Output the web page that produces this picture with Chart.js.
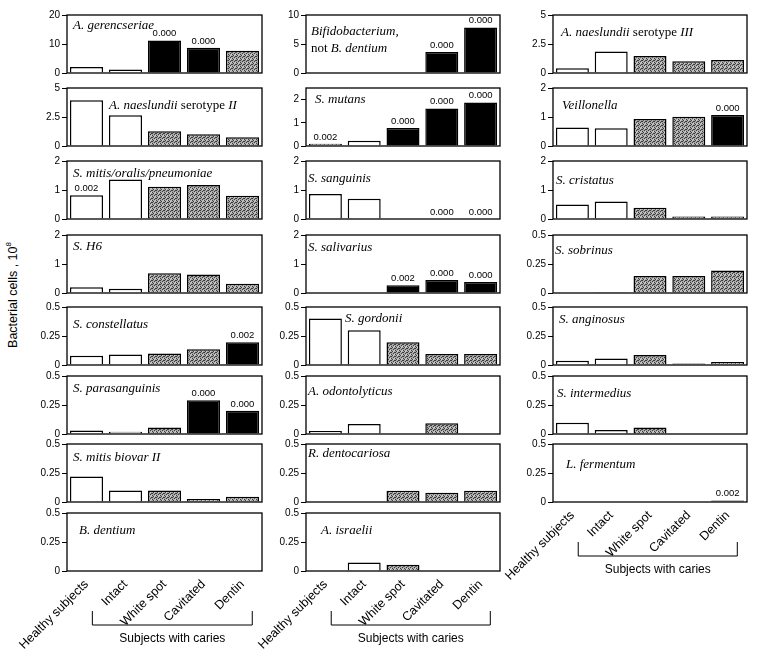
<!DOCTYPE html>
<html>
<head>
<meta charset="utf-8">
<script src="https://cdn.jsdelivr.net/npm/chart.js@4.4.1/dist/chart.umd.min.js"></script>
<style>
  body { margin: 0; width: 757px; height: 653px; background: #fff; position: relative; overflow: hidden; }
  .panel { position: absolute; }
  #ytitle {
    position: absolute; left: 12px; top: 295px;
    transform: translate(-50%, -50%) rotate(-90deg);
    font: 12.5px "Liberation Sans", Arial, sans-serif; white-space: nowrap; color: #000;
  }
  #ytitle sup { font-size: 8px; }
</style>
</head>
<body>
<div id="ytitle">Bacterial cells , 10<sup>8</sup></div>
<script>
const categories = ['Healthy subjects', 'Intact', 'White spot', 'Cavitated', 'Dentin'];

// y tick sets
const ticks0to20 = [0, 10, 20];
const ticks0to10 = [0, 5, 10];
const ticks0to5 = [0, 2.5, 5];
const ticks0to2 = [0, 1, 2];
const ticks0to05 = [0, 0.25, 0.5];

// bacterial cells, 10^8
const gerencseriae = [2.1, 1.2, 11.2, 8.7, 7.7];
const naeslundiiII = [3.95, 2.65, 1.28, 1.02, 0.76];
const mitisOralis = [0.82, 1.36, 1.11, 1.17, 0.8];
const sH6 = [0.2, 0.15, 0.68, 0.64, 0.32];
const constellatus = [0.08, 0.09, 0.1, 0.136, 0.197];
const parasanguinis = [0.03, 0.02, 0.056, 0.29, 0.2];
const mitisBiovarII = [0.22, 0.1, 0.1, 0.026, 0.046];
const bDentium = [0, 0, 0, 0, 0.005];

const bifido = [0, 0, 0, 3.6, 7.85];
const mutans = [0.1, 0.23, 0.78, 1.62, 1.87];
const sanguinis = [0.86, 0.7, 0, 0, 0];
const salivarius = [0, 0, 0.27, 0.45, 0.38];
const gordonii = [0.4, 0.3, 0.196, 0.095, 0.095];
const odontolyticus = [0.026, 0.087, 0, 0.093, 0];
const dentocariosa = [0, 0, 0.097, 0.08, 0.097];
const israelii = [0, 0.074, 0.054, 0, 0];

const naeslundiiIII = [0.4, 1.86, 1.47, 1.02, 1.13];
const veillonella = [0.64, 0.61, 0.93, 1.01, 1.07];
const cristatus = [0.5, 0.6, 0.39, 0.09, 0.09];
const sobrinus = [0, 0.006, 0.147, 0.147, 0.195];
const anginosus = [0.037, 0.057, 0.086, 0.014, 0.026];
const intermedius = [0.096, 0.035, 0.056, 0, 0];
const fermentum = [0, 0, 0, 0.005, 0.012];

// p values printed above bars
const noP = [null, null, null, null, null];
const gerencseriaeP = [null, null, '0.000', '0.000', null];
const mitisOralisP = ['0.002', null, null, null, null];
const constellatusP = [null, null, null, null, '0.002'];
const parasanguinisP = [null, null, null, '0.000', '0.000'];
const bifidoP = [null, null, null, '0.000', '0.000'];
const mutansP = ['0.002', null, '0.000', '0.000', '0.000'];
const sanguinisP = [null, null, null, '0.000', '0.000'];
const salivariusP = [null, null, '0.002', '0.000', '0.000'];
const veillonellaP = [null, null, null, null, '0.000'];
const fermentumP = [null, null, null, null, '0.002'];

// layout
const colLeft = [67, 306, 553];
const colWidth = [195, 194, 194];
const rowTop = [15, 88, 161, 235, 307, 376, 444, 513];
const areaH = 58;
const yAxisW = 34;
const sans = '"Liberation Sans", Arial, sans-serif';
const serif = '"Liberation Serif", "Times New Roman", serif';

// _text_ = italic ; fill: w white, g stippled grey, b black
const panels = [
  { col: 0, row: 0, title: '_A. gerencseriae_', values: gerencseriae, p: gerencseriaeP, fill: 'wwbbg', ticks: ticks0to20, max: 20, tx: 6, ty: 11 },
  { col: 0, row: 1, title: '_A. naeslundii_ serotype _II_', values: naeslundiiII, p: noP, fill: 'wwggg', ticks: ticks0to5, max: 5, tx: 42, ty: 18 },
  { col: 0, row: 2, title: '_S. mitis/oralis/pneumoniae_', values: mitisOralis, p: mitisOralisP, fill: 'wwggg', ticks: ticks0to2, max: 2, tx: 6, ty: 13 },
  { col: 0, row: 3, title: '_S. H6_', values: sH6, p: noP, fill: 'wwggg', ticks: ticks0to2, max: 2, tx: 6, ty: 12 },
  { col: 0, row: 4, title: '_S. constellatus_', values: constellatus, p: constellatusP, fill: 'wwggb', ticks: ticks0to05, max: 0.5, tx: 6, ty: 18 },
  { col: 0, row: 5, title: '_S. parasanguinis_', values: parasanguinis, p: parasanguinisP, fill: 'wwgbb', ticks: ticks0to05, max: 0.5, tx: 6, ty: 13 },
  { col: 0, row: 6, title: '_S. mitis biovar II_', values: mitisBiovarII, p: noP, fill: 'wwggg', ticks: ticks0to05, max: 0.5, tx: 6, ty: 14 },
  { col: 0, row: 7, title: '_B. dentium_', values: bDentium, p: noP, fill: 'wwggb', ticks: ticks0to05, max: 0.5, tx: 12, ty: 18 },

  { col: 1, row: 0, title: '_Bifidobacterium,_\nnot _B. dentium_', values: bifido, p: bifidoP, fill: 'wwgbb', ticks: ticks0to10, max: 10, tx: 5, ty: 17 },
  { col: 1, row: 1, title: '_S. mutans_', values: mutans, p: mutansP, fill: 'gwbbb', ticks: ticks0to2, max: 2.5, tx: 9, ty: 12 },
  { col: 1, row: 2, title: '_S. sanguinis_', values: sanguinis, p: sanguinisP, fill: 'wwggg', ticks: ticks0to2, max: 2, tx: 2, ty: 18 },
  { col: 1, row: 3, title: '_S. salivarius_', values: salivarius, p: salivariusP, fill: 'wwbbb', ticks: ticks0to2, max: 2, tx: 2, ty: 13 },
  { col: 1, row: 4, title: '_S. gordonii_', values: gordonii, p: noP, fill: 'wwggg', ticks: ticks0to05, max: 0.5, tx: 39, ty: 12 },
  { col: 1, row: 5, title: '_A. odontolyticus_', values: odontolyticus, p: noP, fill: 'wwggg', ticks: ticks0to05, max: 0.5, tx: 2, ty: 16 },
  { col: 1, row: 6, title: '_R. dentocariosa_', values: dentocariosa, p: noP, fill: 'wwggg', ticks: ticks0to05, max: 0.5, tx: 2, ty: 10 },
  { col: 1, row: 7, title: '_A. israelii_', values: israelii, p: noP, fill: 'wwggg', ticks: ticks0to05, max: 0.5, tx: 15, ty: 18 },

  { col: 2, row: 0, title: '_A. naeslundii_ serotype _III_', values: naeslundiiIII, p: noP, fill: 'wwggg', ticks: ticks0to5, max: 5, tx: 8, ty: 18 },
  { col: 2, row: 1, title: '_Veillonella_', values: veillonella, p: veillonellaP, fill: 'wwggb', ticks: ticks0to2, max: 2, tx: 9, ty: 18 },
  { col: 2, row: 2, title: '_S. cristatus_', values: cristatus, p: noP, fill: 'wwggg', ticks: ticks0to2, max: 2, tx: 3, ty: 20 },
  { col: 2, row: 3, title: '_S. sobrinus_', values: sobrinus, p: noP, fill: 'wgggg', ticks: ticks0to05, max: 0.5, tx: 2, ty: 16 },
  { col: 2, row: 4, title: '_S. anginosus_', values: anginosus, p: noP, fill: 'wwggg', ticks: ticks0to05, max: 0.5, tx: 6, ty: 13 },
  { col: 2, row: 5, title: '_S. intermedius_', values: intermedius, p: noP, fill: 'wwggg', ticks: ticks0to05, max: 0.5, tx: 4, ty: 18 },
  { col: 2, row: 6, title: '_L. fermentum_', values: fermentum, p: fermentumP, fill: 'wwggb', ticks: ticks0to05, max: 0.5, tx: 13, ty: 21 }
];

// bracket under "Intact".."Dentin" (category index units)
const bracketFrom = 0.15;
const bracketTo = 4.25;

function greyPattern() {
  const c = document.createElement('canvas');
  c.width = 4; c.height = 4;
  const g = c.getContext('2d');
  g.fillStyle = '#a9a9a9';
  g.fillRect(0, 0, 4, 4);
  g.fillStyle = '#3c3c3c';
  [[0, 0], [2, 1], [1, 2], [3, 3], [3, 1]].forEach(d => g.fillRect(d[0], d[1], 1, 1));
  g.fillStyle = '#d0d0d0';
  [[1, 0], [2, 3]].forEach(d => g.fillRect(d[0], d[1], 1, 1));
  return g.createPattern(c, 'repeat');
}
const grey = greyPattern();
const fillColor = { w: '#ffffff', g: grey, b: '#000000' };

function drawTitle(ctx, area, panel) {
  const lines = panel.title.split('\n');
  ctx.textBaseline = 'middle';
  ctx.textAlign = 'left';
  ctx.fillStyle = '#000';
  lines.forEach((line, li) => {
    let x = area.left + panel.tx;
    const y = area.top + panel.ty + li * 17;
    line.split('_').forEach((seg, k) => {
      if (!seg) return;
      ctx.font = (k % 2 ? 'italic ' : '') + '13px ' + serif;
      ctx.fillText(seg, x, y);
      x += ctx.measureText(seg).width;
    });
  });
}

panels.forEach(panel => {
  const isBottom = (panel.col < 2 && panel.row === 7) || (panel.col === 2 && panel.row === 6);
  const padL = isBottom ? 55 : 0;
  const padT = 8;
  const padR = isBottom ? 40 : 6;
  const padB = isBottom ? 0 : 8;
  const xH = isBottom ? 86 : 0;
  const w = padL + yAxisW + colWidth[panel.col] + padR;
  const h = padT + areaH + xH + padB;

  const div = document.createElement('div');
  div.className = 'panel';
  div.style.left = (colLeft[panel.col] - yAxisW - padL) + 'px';
  div.style.top = (rowTop[panel.row] - padT) + 'px';
  div.style.width = w + 'px';
  div.style.height = h + 'px';
  const cv = document.createElement('canvas');
  cv.width = w;
  cv.height = h;
  div.appendChild(cv);
  document.body.appendChild(div);

  const decor = {
    id: 'decor',
    afterDatasetsDraw(chart) {
      const ctx = chart.ctx, a = chart.chartArea;
      ctx.save();
      ctx.strokeStyle = '#000';
      ctx.lineWidth = 1.3;
      ctx.strokeRect(a.left, a.top, a.right - a.left, a.bottom - a.top);

      const meta = chart.getDatasetMeta(0);
      ctx.font = '9.5px ' + sans;
      ctx.fillStyle = '#000';
      ctx.textAlign = 'center';
      ctx.textBaseline = 'bottom';
      panel.p.forEach((t, i) => {
        if (t) ctx.fillText(t, meta.data[i].x, meta.data[i].y - 2);
      });

      drawTitle(ctx, a, panel);

      if (isBottom) {
        const xs = chart.scales.x;
        const x0 = xs.getPixelForValue(bracketFrom);
        const x1 = xs.getPixelForValue(bracketTo);
        const b = a.bottom;
        ctx.lineWidth = 1;
        ctx.beginPath();
        ctx.moveTo(x0, b + 40);
        ctx.lineTo(x0, b + 54);
        ctx.lineTo(x1, b + 54);
        ctx.lineTo(x1, b + 40);
        ctx.stroke();
        ctx.font = '12px ' + sans;
        ctx.textAlign = 'center';
        ctx.textBaseline = 'middle';
        ctx.fillText('Subjects with caries', (x0 + x1) / 2, b + 68);
      }
      ctx.restore();
    }
  };

  new Chart(cv, {
    type: 'bar',
    data: {
      labels: categories,
      datasets: [{
        data: panel.values,
        backgroundColor: panel.fill.split('').map(c => fillColor[c]),
        borderColor: '#000',
        borderWidth: 1.5,
        barPercentage: 0.85,
        categoryPercentage: 1
      }]
    },
    options: {
      responsive: false,
      animation: false,
      devicePixelRatio: 1,
      layout: { padding: { left: padL, top: padT, right: padR, bottom: padB } },
      plugins: { legend: { display: false }, tooltip: { enabled: false } },
      scales: {
        x: {
          display: isBottom,
          offset: true,
          grid: { display: false, drawTicks: false },
          border: { display: false },
          ticks: {
            minRotation: 45, maxRotation: 45, autoSkip: false, padding: 6,
            color: '#000', font: { family: sans, size: 12.5 }
          },
          afterFit: s => { s.height = xH; s.paddingLeft = 0; s.paddingRight = 0; }
        },
        y: {
          min: 0,
          max: panel.max,
          border: { display: false },
          grid: { drawOnChartArea: false, drawTicks: true, tickLength: 5, color: '#000', lineWidth: 1 },
          ticks: { padding: 2, color: '#000', font: { family: sans, size: 10 }, callback: v => String(v) },
          afterBuildTicks: s => { s.ticks = panel.ticks.map(v => ({ value: v })); },
          afterFit: s => { s.width = yAxisW; s.paddingTop = 0; s.paddingBottom = 0; }
        }
      }
    },
    plugins: [decor]
  });
});
</script>
</body>
</html>
